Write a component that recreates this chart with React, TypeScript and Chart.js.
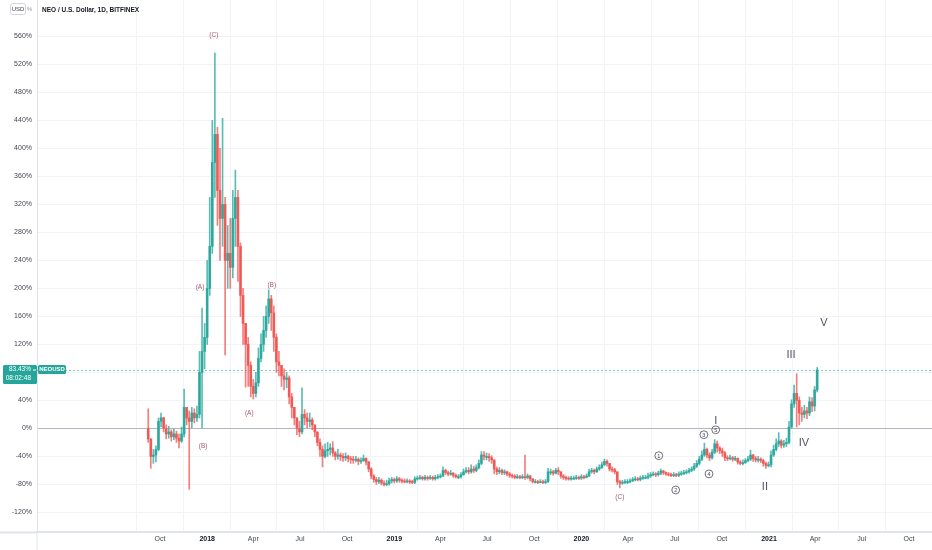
import React, { useEffect, useRef } from 'react';
import { Chart, registerables } from 'chart.js';

Chart.register(...registerables);

// ---------- DATA (percent change vs. first bar, 5-day candles) ----------
const FIRST_DATE = '2017-09-08';
const STEP_DAYS = 5;

const opens = [
  0, -15, -40, -38, -30, 10, 15, 0, -8, -5,
  -12, -8, -14, -18, -8, 30, 15, 10, 22, 15,
  20, 80, 110, 130, 200, 260, 380, 420, 340, 300,
  320, 240, 250, 230, 300, 330, 260, 190, 150, 120,
  90, 60, 50, 65, 100, 120, 140, 160, 185, 165,
  130, 95, 90, 75, 70, 72, 45, 30, 15, 0,
  -5, 20, 15, 10, 12, 5, -5, -20, -30, -40,
  -32, -30, -28, -35, -40, -38, -40, -42, -40, -43,
  -44, -45, -44, -47, -46, -43, -48, -58, -68, -73,
  -76, -74, -78, -80, -79, -75, -73, -75, -72, -74,
  -75, -76, -75, -76, -77, -72, -71, -70, -72, -70,
  -71, -70, -72, -70, -69, -68, -60, -63, -65, -64,
  -67, -69, -69, -66, -62, -60, -62, -58, -60, -56,
  -50, -38, -40, -40, -42, -45, -58, -62, -60, -63,
  -62, -65, -67, -68, -70, -69, -70, -69, -70, -68,
  -72, -76, -76, -77, -76, -77, -76, -62, -62, -64,
  -60, -62, -68, -70, -71, -72, -71, -71, -70, -71,
  -69, -70, -68, -62, -60, -62, -58, -56, -52, -47,
  -50, -58, -59, -62, -76, -78, -77, -76, -76, -75,
  -73, -72, -73, -71, -70, -70, -68, -66, -65, -66,
  -64, -61, -63, -65, -66, -67, -66, -67, -65, -64,
  -63, -62, -60, -58, -54, -50, -44, -38, -30, -38,
  -42, -34, -22, -28, -32, -35, -42, -43, -42, -44,
  -43, -48, -50, -49, -46, -44, -38, -43, -45, -44,
  -46, -50, -53, -52, -38, -30, -22, -18, -24, -22,
  -20, 2, 35, 50, 40, 22, 20, 25, 22, 38,
  32, 55,
];

const highs = [
  28, -15, -30, -25, 15, 22, 16, 5, 3, -2,
  0, -4, -8, 2, 56, 30, 25, 30, 28, 32,
  110, 172, 150, 240, 330, 440, 536, 430, 400, 443,
  330, 290, 300, 340, 369, 340, 265, 200, 150, 130,
  95, 70, 80, 115, 135, 160, 175, 198, 190, 175,
  135, 110, 90, 85, 80, 75, 50, 30, 15, 10,
  58, 27, 22, 22, 15, 5, -5, -15, -25, -22,
  -20, -22, -19, -33, -30, -35, -36, -35, -38, -40,
  -40, -40, -42, -42, -38, -42, -47, -56, -66, -70,
  -70, -72, -75, -74, -71, -70, -71, -69, -70, -72,
  -72, -72, -73, -74, -69, -68, -67, -68, -67, -68,
  -67, -68, -67, -66, -65, -55, -58, -61, -60, -63,
  -65, -66, -63, -58, -56, -56, -52, -54, -52, -45,
  -33, -33, -35, -36, -39, -45, -55, -56, -58, -59,
  -61, -63, -65, -66, -66, -67, -66, -38, -65, -67,
  -72, -73, -74, -73, -74, -73, -57, -58, -60, -57,
  -56, -62, -66, -68, -69, -68, -68, -67, -68, -66,
  -67, -65, -58, -57, -58, -55, -52, -48, -44, -45,
  -50, -55, -57, -62, -74, -74, -73, -73, -72, -70,
  -69, -70, -68, -67, -67, -64, -63, -62, -63, -61,
  -58, -60, -62, -63, -64, -63, -64, -62, -61, -60,
  -59, -57, -55, -50, -46, -40, -32, -21, -28, -35,
  -30, -16, -18, -26, -28, -33, -39, -38, -40, -40,
  -42, -46, -45, -43, -40, -31, -37, -40, -40, -42,
  -44, -48, -48, -32, -24, -15, -6, -16, -17, -14,
  10, 41, 62, 78, 45, 30, 33, 30, 45, 44,
  60, 87,
];

const lows = [
  -20, -57, -50, -48, -32, 2, -5, -15, -14, -18,
  -16, -20, -28, -20, -12, 5, -87, 0, 8, 10,
  15, 0, 85, 120, 190, 250, 330, 290, 240, 260,
  105, 200, 200, 215, 260, 210, 160, 120, 59, 60,
  45, 42, 45, 60, 95, 110, 130, 150, 140, 110,
  80, 75, 60, 55, 58, 35, 15, 5, -9, -12,
  -8, 5, 0, 2, -2, -12, -25, -40, -55, -42,
  -40, -38, -40, -45, -44, -46, -47, -46, -48, -50,
  -50, -48, -52, -50, -47, -52, -62, -72, -77, -80,
  -79, -81, -82, -82, -81, -78, -78, -77, -77, -78,
  -78, -78, -79, -79, -79, -74, -73, -74, -74, -74,
  -73, -74, -74, -72, -71, -69, -66, -68, -67, -70,
  -71, -72, -71, -67, -64, -65, -64, -63, -62, -58,
  -52, -45, -45, -47, -50, -65, -66, -65, -66, -66,
  -68, -70, -71, -72, -72, -72, -72, -73, -72, -75,
  -78, -78, -79, -78, -79, -79, -77, -66, -67, -65,
  -66, -71, -73, -74, -74, -74, -73, -73, -73, -73,
  -72, -71, -69, -64, -65, -63, -60, -57, -53, -54,
  -61, -62, -65, -80, -85, -80, -79, -79, -78, -76,
  -75, -75, -75, -73, -72, -72, -70, -68, -69, -68,
  -66, -66, -67, -68, -69, -69, -69, -69, -67, -66,
  -65, -64, -62, -60, -56, -52, -46, -40, -42, -46,
  -44, -36, -34, -36, -40, -46, -46, -45, -47, -46,
  -51, -52, -52, -50, -48, -46, -47, -48, -48, -49,
  -54, -57, -55, -55, -40, -32, -26, -28, -27, -26,
  -22, 0, 30, 2, 5, 10, 15, 14, 18, 24,
  25, 52,
];

const closes = [
  -15, -40, -38, -30, 10, 15, 0, -8, -5, -12,
  -8, -14, -18, -8, 30, 15, 10, 22, 15, 20,
  80, 110, 130, 200, 260, 380, 420, 340, 300, 320,
  240, 250, 230, 300, 330, 260, 190, 150, 120, 90,
  60, 50, 65, 100, 120, 140, 160, 185, 165, 130,
  95, 90, 75, 70, 72, 45, 30, 15, 0, -5,
  20, 15, 10, 12, 5, -5, -20, -30, -40, -32,
  -30, -28, -35, -40, -38, -40, -42, -40, -43, -44,
  -45, -44, -47, -46, -43, -48, -58, -68, -73, -76,
  -74, -78, -80, -79, -75, -73, -75, -72, -74, -75,
  -76, -75, -76, -77, -72, -71, -70, -72, -70, -71,
  -70, -72, -70, -69, -68, -60, -63, -65, -64, -67,
  -69, -69, -66, -62, -60, -62, -58, -60, -56, -50,
  -38, -40, -40, -42, -45, -58, -62, -60, -63, -62,
  -65, -67, -68, -70, -69, -70, -69, -70, -68, -72,
  -76, -76, -77, -76, -77, -76, -62, -62, -64, -60,
  -62, -68, -70, -71, -72, -71, -71, -70, -71, -69,
  -70, -68, -62, -60, -62, -58, -56, -52, -47, -50,
  -58, -59, -62, -76, -78, -77, -76, -76, -75, -73,
  -72, -73, -71, -70, -70, -68, -66, -65, -66, -64,
  -61, -63, -65, -66, -67, -66, -67, -65, -64, -63,
  -62, -60, -58, -54, -50, -44, -38, -30, -38, -42,
  -34, -22, -28, -32, -35, -42, -43, -42, -44, -43,
  -48, -50, -49, -46, -44, -38, -43, -45, -44, -46,
  -50, -53, -52, -38, -30, -22, -18, -24, -22, -20,
  2, 35, 50, 40, 22, 20, 25, 22, 38, 32,
  55, 83.43,
];

const xTickDates = [
  '2017-10-01', '2018-01-01', '2018-04-01', '2018-07-01', '2018-10-01',
  '2019-01-01', '2019-04-01', '2019-07-01', '2019-10-01',
  '2020-01-01', '2020-04-01', '2020-07-01', '2020-10-01',
  '2021-01-01', '2021-04-01', '2021-07-01', '2021-10-01',
];
const xTickLabels = [
  'Oct', '2018', 'Apr', 'Jul', 'Oct',
  '2019', 'Apr', 'Jul', 'Oct',
  '2020', 'Apr', 'Jul', 'Oct',
  '2021', 'Apr', 'Jul', 'Oct',
];
const yTicks = [-120, -80, -40, 0, 40, 80, 120, 160, 200, 240, 280, 320, 360, 400, 440, 480, 520, 560];

const X_MIN_DATE = '2017-02-03';
const X_MAX_DATE = '2021-11-15';
const Y_MIN = -148;
const Y_MAX = 612;

const TITLE = 'NEO / U.S. Dollar, 1D, BITFINEX';
const SYMBOL = 'NEOUSD';
const LAST_VALUE = 83.43;
const COUNTDOWN = '08:02:48';

type Wave = { text: string; date: string; value: number; kind: 'paren' | 'circle' | 'roman' };
const waveLabels: Wave[] = [
  { text: '(C)', date: '2018-01-14', value: 562, kind: 'paren' },
  { text: '(A)', date: '2017-12-18', value: 202, kind: 'paren' },
  { text: '(B)', date: '2017-12-24', value: -25, kind: 'paren' },
  { text: '(A)', date: '2018-03-24', value: 22, kind: 'paren' },
  { text: '(B)', date: '2018-05-07', value: 204, kind: 'paren' },
  { text: '(C)', date: '2020-03-16', value: -98, kind: 'paren' },
  { text: '1', date: '2020-05-31', value: -39, kind: 'circle' },
  { text: '2', date: '2020-07-03', value: -88, kind: 'circle' },
  { text: '3', date: '2020-08-27', value: -9, kind: 'circle' },
  { text: '4', date: '2020-09-06', value: -65, kind: 'circle' },
  { text: '5', date: '2020-09-19', value: -2, kind: 'circle' },
  { text: 'I', date: '2020-09-19', value: 10, kind: 'roman' },
  { text: 'II', date: '2020-12-24', value: -84, kind: 'roman' },
  { text: 'III', date: '2021-02-13', value: 105, kind: 'roman' },
  { text: 'IV', date: '2021-03-10', value: -21, kind: 'roman' },
  { text: 'V', date: '2021-04-18', value: 151, kind: 'roman' },
];

// ---------- helpers ----------
const BASE = Date.UTC(2017, 0, 1);
const dayOf = (s: string) => {
  const [y, m, d] = s.split('-').map(Number);
  return Math.round((Date.UTC(y, m - 1, d) - BASE) / 86400000);
};

const UP = '#26a69a';
const FONT = "'Liberation Sans', Arial, sans-serif";
const AXIS_LINE = '#e0e3eb';

export default function App() {
  const ref = useRef<HTMLCanvasElement | null>(null);

  useEffect(() => {
    if (!ref.current) return;
    const first = dayOf(FIRST_DATE);
    const days = closes.map((_, i) => first + i * STEP_DAYS);
    const isUp = closes.map((c, i) => c >= opens[i]);
    const bodyColors = isUp.map((u) => (u ? 'rgba(38,166,154,0.9)' : 'rgba(239,83,80,0.9)'));
    const wickColors = isUp.map((u) => (u ? 'rgba(38,166,154,0.75)' : 'rgba(239,83,80,0.75)'));
    const tickDays = xTickDates.map(dayOf);
    const labelFor = (v: number) => {
      const k = tickDays.indexOf(v);
      return k >= 0 ? xTickLabels[k] : '';
    };

    const overlay = {
      id: 'overlay',
      beforeDatasetsDraw(chart: any) {
        const { ctx, chartArea, scales } = chart;
        const py = Math.round(scales.y.getPixelForValue(LAST_VALUE)) + 0.5;
        ctx.save();
        ctx.strokeStyle = 'rgba(38,166,154,0.6)';
        ctx.lineWidth = 1;
        ctx.setLineDash([2, 2]);
        ctx.beginPath();
        ctx.moveTo(chartArea.left, py);
        ctx.lineTo(chartArea.right, py);
        ctx.stroke();
        ctx.restore();
      },
      afterDraw(chart: any) {
        const { ctx, scales, chartArea } = chart;
        const xs = scales.x;
        const ys = scales.y;
        ctx.save();
        // axis corner lines
        ctx.fillStyle = AXIS_LINE;
        ctx.fillRect(0, chartArea.bottom - 0.5, chartArea.left, 2);
        ctx.fillRect(chartArea.left - 0.5, chartArea.bottom, 1, 550 - chartArea.bottom);
        // title
        ctx.fillStyle = '#131722';
        ctx.font = `bold 6.5px ${FONT}`;
        ctx.textBaseline = 'middle';
        ctx.textAlign = 'left';
        ctx.fillText(TITLE, 42, 10);
        // USD % button
        ctx.strokeStyle = '#d1d4dc';
        ctx.lineWidth = 1;
        ctx.beginPath();
        (ctx as any).roundRect(10.5, 3.5, 15, 11, 2);
        ctx.stroke();
        ctx.fillStyle = '#434651';
        ctx.font = `6px ${FONT}`;
        ctx.textAlign = 'center';
        ctx.fillText('USD', 18, 9.5);
        ctx.fillStyle = '#9598a1';
        ctx.fillText('%', 29.5, 9.5);

        // last price labels
        const py = Math.round(ys.getPixelForValue(LAST_VALUE));
        ctx.fillStyle = UP;
        ctx.beginPath();
        (ctx as any).roundRect(3, py - 5, 34, 19, 1.5);
        ctx.fill();
        ctx.beginPath();
        (ctx as any).roundRect(38, py - 5, 28, 9, 1.5);
        ctx.fill();
        ctx.fillStyle = '#ffffff';
        ctx.font = `6.5px ${FONT}`;
        ctx.textAlign = 'right';
        ctx.fillText(LAST_VALUE.toFixed(2) + '%', 31, py - 0.5);
        ctx.fillText(COUNTDOWN, 31, py + 8.5);
        ctx.fillRect(33, py - 0.5, 3, 1);
        ctx.font = `bold 6px ${FONT}`;
        ctx.textAlign = 'center';
        ctx.fillText(SYMBOL, 52, py - 0.5);

        // wave labels
        waveLabels.forEach((w) => {
          const px = xs.getPixelForValue(dayOf(w.date));
          const pyy = ys.getPixelForValue(w.value);
          if (w.kind === 'paren') {
            ctx.fillStyle = '#a65c78';
            ctx.font = `6.5px ${FONT}`;
            ctx.textAlign = 'center';
            ctx.fillText(w.text, px, pyy);
          } else if (w.kind === 'circle') {
            ctx.strokeStyle = '#5d606b';
            ctx.lineWidth = 0.9;
            ctx.beginPath();
            ctx.arc(px, pyy, 3.9, 0, Math.PI * 2);
            ctx.stroke();
            ctx.fillStyle = '#434651';
            ctx.font = `5.5px ${FONT}`;
            ctx.textAlign = 'center';
            ctx.fillText(w.text, px, pyy + 0.3);
          } else {
            ctx.fillStyle = '#50535e';
            ctx.font = `11px ${FONT}`;
            ctx.textAlign = 'center';
            ctx.fillText(w.text, px, pyy);
          }
        });
        ctx.restore();
      },
    };

    const chart = new Chart(ref.current, {
      type: 'bar',
      data: {
        datasets: [
          {
            label: 'body',
            data: days.map((d, i) => ({ x: d, y: [Math.min(opens[i], closes[i]), Math.max(opens[i], closes[i])] })) as any,
            backgroundColor: bodyColors,
            borderWidth: 0,
            barThickness: 2,
            minBarLength: 1,
            grouped: false,
          } as any,
          {
            label: 'wick',
            data: days.map((d, i) => ({ x: d, y: [lows[i], highs[i]] })) as any,
            backgroundColor: wickColors,
            borderWidth: 0,
            barThickness: 1,
            grouped: false,
          } as any,
        ],
      },
      options: {
        responsive: false,
        animation: false,
        events: [],
        layout: { padding: 0 },
        plugins: { legend: { display: false }, tooltip: { enabled: false }, title: { display: false } },
        scales: {
          x: {
            type: 'linear',
            offset: false,
            min: dayOf(X_MIN_DATE),
            max: dayOf(X_MAX_DATE),
            afterBuildTicks: (scale: any) => {
              scale.ticks = tickDays.map((v) => ({ value: v }));
            },
            afterFit: (scale: any) => {
              scale.height = 18;
              scale.paddingLeft = 0;
              scale.paddingRight = 0;
            },
            ticks: {
              autoSkip: false,
              maxRotation: 0,
              padding: 3,
              color: (c: any) => (/^\d{4}$/.test(labelFor(c.tick?.value)) ? '#131722' : '#434651'),
              font: (c: any) => ({
                family: FONT,
                size: 7,
                weight: /^\d{4}$/.test(labelFor(c.tick?.value)) ? 'bold' : 'normal',
              }),
              callback: (v: any) => labelFor(Number(v)),
            },
            grid: { color: '#f0f3fa', lineWidth: 1, drawTicks: false },
            border: { display: true, color: AXIS_LINE, width: 2 },
          },
          y: {
            type: 'linear',
            position: 'left',
            min: Y_MIN,
            max: Y_MAX,
            afterBuildTicks: (scale: any) => {
              scale.ticks = yTicks.map((v) => ({ value: v }));
            },
            afterFit: (scale: any) => {
              scale.width = 37;
              scale.paddingTop = 0;
              scale.paddingBottom = 0;
            },
            ticks: {
              padding: 5,
              color: '#434651',
              font: { family: FONT, size: 7 },
              callback: (v: any) => `${v}%`,
            },
            grid: {
              color: (c: any) => (c.tick && c.tick.value === 0 ? '#b2b5be' : '#f0f3fa'),
              lineWidth: 1,
              drawTicks: false,
            },
            border: { display: true, color: AXIS_LINE, width: 1 },
          },
        },
      } as any,
      plugins: [overlay],
    });
    return () => chart.destroy();
  }, []);

  return (
    <div style={{ position: 'absolute', left: 0, top: 0, width: 932, height: 550, background: '#ffffff' }}>
      <canvas ref={ref} width={932} height={550} style={{ display: 'block' }} />
    </div>
  );
}
